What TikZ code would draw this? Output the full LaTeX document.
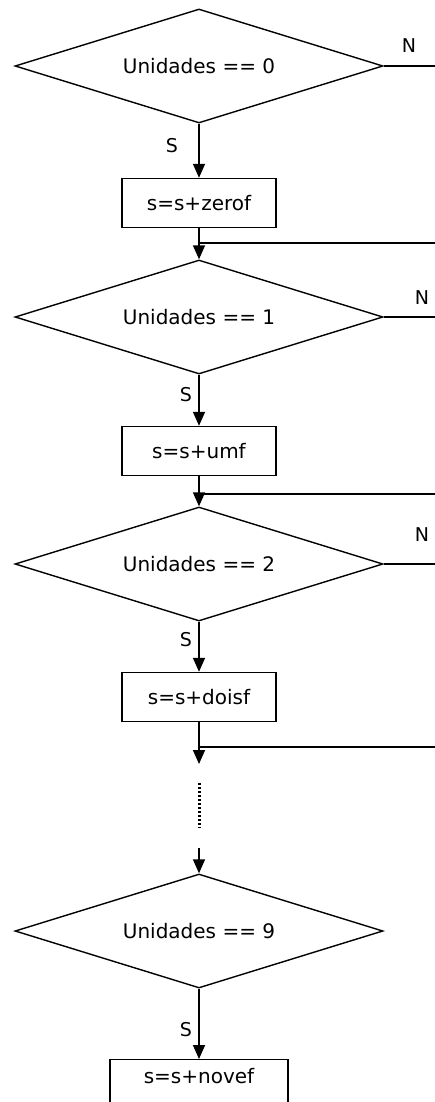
\documentclass[tikz,border=0pt]{standalone}
\usepackage{fontspec}
\setmainfont{DejaVu Sans}
\usetikzlibrary{shapes.geometric,arrows.meta}
\newcommand{\fonte}{\fontsize{20}{23}\selectfont}
\newcommand{\fonterot}{\fontsize{19}{22}\selectfont}
\tikzset{
  decisao/.style={draw,diamond,line width=1.4pt,minimum width=368pt,
    minimum height=114pt,aspect=3.2,inner sep=0pt,font=\fonte},
  acao/.style={draw,rectangle,line width=1.4pt,minimum width=154pt,
    minimum height=49pt,inner sep=0pt,font=\fonte},
  linha/.style={line width=1.6pt},
  fluxo/.style={linha,-{Triangle[width=12pt,length=14pt]}},
  pontos/.style={line width=3pt,dash pattern=on 2pt off 2pt},
  rotulo/.style={inner sep=0pt,font=\fonterot}
}

\begin{document}
\begin{tikzpicture}[x=1pt,y=-1pt]%
  \useasboundingbox (0,0) rectangle (435,1102);
  \clip (0,0) rectangle (435,1102);
  % testes e acoes
  \node[decisao] (d0) at (199,66)  {Unidades == 0};
  \node[acao]    (b0) at (199,203) {s=s+zerof};
  \node[decisao] (d1) at (199,317) {Unidades == 1};
  \node[acao]    (b1) at (199,451) {s=s+umf};
  \node[decisao] (d2) at (199,564) {Unidades == 2};
  \node[acao]    (b2) at (199,697) {s=s+doisf};
  \node[decisao] (d9) at (199,931) {Unidades == 9};
  \node[acao,minimum width=178pt,anchor=north,text height=24pt,
        text depth=40pt] (b9) at (199,1059) {s=s+novef};
  % rotulos
  \node[rotulo] (s0) at (172,146)  {S};
  \node[rotulo] (s1) at (186,395)  {S};
  \node[rotulo] (s2) at (186,640)  {S};
  \node[rotulo] (s9) at (186,1030) {S};
  \node[rotulo] (n0) at (409,46)   {N};
  \node[rotulo] (n1) at (422,298)  {N};
  \node[rotulo] (n2) at (422,535)  {N};
  % pontos de juncao
  \coordinate (r0) at (440,243);
  \coordinate (r1) at (440,494);
  \coordinate (r2) at (440,747);
  \coordinate (p2) at (199,764);
  \coordinate (t1) at (199,783);
  \coordinate (t2) at (199,828);
  \coordinate (t3) at (199,848);
  % ligacoes
  \draw[fluxo] (d0) -- (b0);
  \draw[fluxo] (b0) -- (d1);
  \draw[fluxo] (d1) -- (b1);
  \draw[fluxo] (b1) -- (d2);
  \draw[fluxo] (d2) -- (b2);
  \draw[fluxo] (b2) -- (p2);
  \draw[pontos] (t1) -- (t2);
  \draw[fluxo] (t3) -- (d9);
  \draw[fluxo] (d9) -- (b9);
  \draw[linha] (d0.east) -- (d0.east -| r0);
  \draw[linha] (d1.east) -- (d1.east -| r0);
  \draw[linha] (d2.east) -- (d2.east -| r0);
  \draw[linha] (r0) -- (r0 -| b0);
  \draw[linha] (r1) -- (r1 -| b1);
  \draw[linha] (r2) -- (r2 -| b2);
\end{tikzpicture}
\end{document}
